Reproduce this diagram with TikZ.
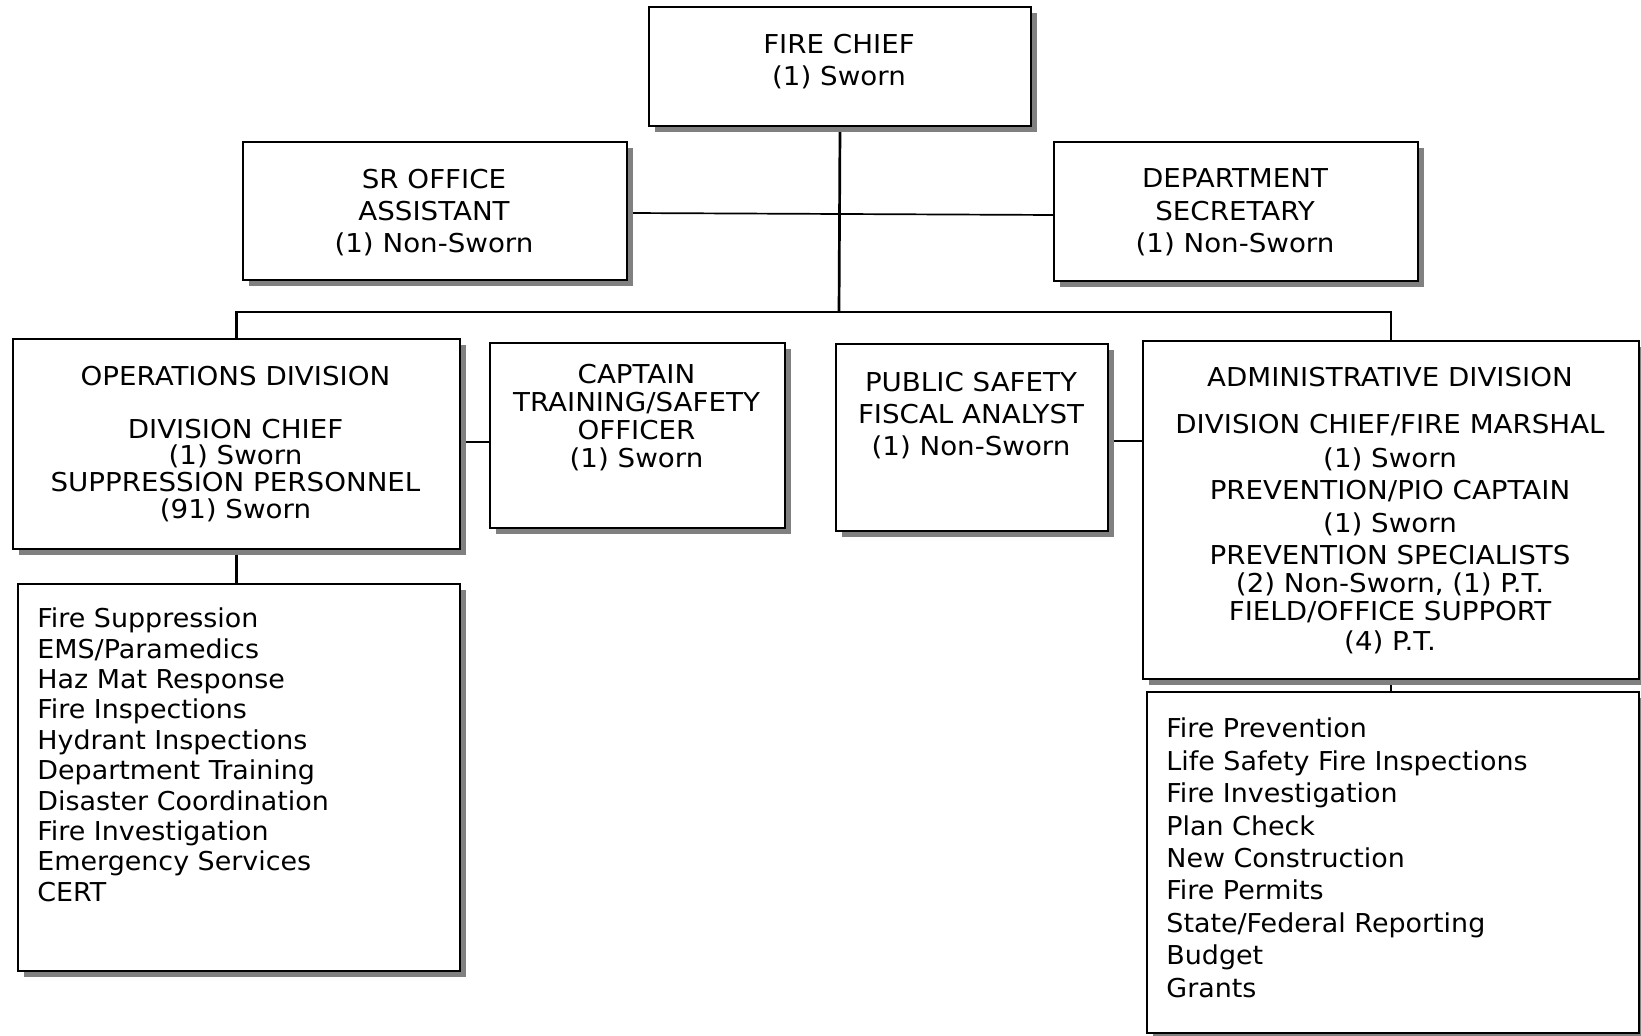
\documentclass[tikz,border=0pt]{standalone}
\usepackage{fontspec}
\setmainfont{DejaVu Sans}
\newfontfamily\ttlfont[FakeStretch=1.065]{DejaVu Sans}
\newfontfamily\lstfont[FakeStretch=1.035]{DejaVu Sans}
\usetikzlibrary{shadows}
\definecolor{shadowgray}{HTML}{808080}
\pgfdeclarelayer{bg}
\pgfsetlayers{bg,main}
\begin{document}
\begin{tikzpicture}[x=0.5pt,y=-0.5pt,
  box/.style={draw=black, line width=1pt, fill=white, rectangle, inner sep=0pt, anchor=north west,
    drop shadow={shadow xshift=3pt, shadow yshift=-2.8pt, fill=shadowgray, opacity=1}},
  ttl/.style={inner sep=0pt, anchor=north, align=center},
  lst/.style={inner sep=0pt, anchor=north west, align=left},
  conn/.style={line width=1.35pt},
  thinconn/.style={line width=0.85pt}]
\useasboundingbox (0,0) rectangle (1641,1036);

\node[box, minimum width=191pt, minimum height=59.5pt] (chief) at (648,6) {};
\node[box, minimum width=192pt, minimum height=69pt] (sr) at (242,141) {};
\node[box, minimum width=182pt, minimum height=69.5pt] (ds) at (1053,141) {};
\node[box, minimum width=223.5pt, minimum height=105pt] (ops) at (12,338) {};
\node[box, minimum width=147.5pt, minimum height=92.5pt] (cap) at (489,342) {};
\node[box, minimum width=136pt, minimum height=93.5pt] (pub) at (835,343) {};
\node[box, minimum width=248pt, minimum height=169pt] (adm) at (1142,340) {};
\node[box, minimum width=221pt, minimum height=193.5pt] (opsl) at (17,583) {};
\node[box, minimum width=246pt, minimum height=170.5pt] (adml) at (1146,691) {};

\node[ttl, font=\ttlfont\fontsize{13}{16}\selectfont] (chiefT) at (839,33.5) {FIRE CHIEF\\(1) Sworn};
\node[ttl, font=\ttlfont\fontsize{13}{16.2}\selectfont] (srT) at (434,168.5) {SR OFFICE\\ASSISTANT\\(1) Non-Sworn};
\node[ttl, font=\ttlfont\fontsize{13}{16.2}\selectfont] (dsT) at (1235,168.5) {DEPARTMENT\\SECRETARY\\(1) Non-Sworn};
\node[ttl, font=\ttlfont\fontsize{13}{13.3}\selectfont] (opsT) at (235.5,365.5) {OPERATIONS DIVISION\\[13.3pt]DIVISION CHIEF\\(1) Sworn\\SUPPRESSION PERSONNEL\\(91) Sworn};
\node[ttl, font=\ttlfont\fontsize{13}{13.9}\selectfont] (capT) at (636.5,364) {CAPTAIN\\TRAINING/SAFETY\\OFFICER\\(1) Sworn};
\node[ttl, font=\ttlfont\fontsize{13}{16}\selectfont] (pubT) at (971,371.5) {PUBLIC SAFETY\\FISCAL ANALYST\\(1) Non-Sworn};
\node[ttl, font=\ttlfont\fontsize{13}{16}\selectfont] (admT) at (1390,367) {ADMINISTRATIVE DIVISION\\[7.5pt]DIVISION CHIEF/FIRE MARSHAL\\[0.8pt](1) Sworn\\PREVENTION/PIO CAPTAIN\\[0.5pt](1) Sworn\\PREVENTION SPECIALISTS\\[-2pt](2) Non-Sworn, (1) P.T.\\[-1.7pt]FIELD/OFFICE SUPPORT\\[-1pt](4) P.T.};
\node[lst, font=\lstfont\fontsize{13}{15.2}\selectfont] (opslT) at (37,607.5) {Fire Suppression\\EMS/Paramedics\\Haz Mat Response\\Fire Inspections\\Hydrant Inspections\\Department Training\\Disaster Coordination\\Fire Investigation\\Emergency Services\\CERT};
\node[lst, font=\lstfont\fontsize{13}{16.2}\selectfont] (admlT) at (1166,717.7) {Fire Prevention\\Life Safety Fire Inspections\\Fire Investigation\\Plan Check\\New Construction\\Fire Permits\\State/Federal Reporting\\Budget\\Grants};

\begin{pgfonlayer}{bg}
\fill[white] (0,0) rectangle (1641,1036);
\coordinate (bus) at (839,312);
\draw[conn] (chief.south) -- (bus);
\draw[conn] (ops.north) |- (bus) -| (adm.north);
\draw[thinconn] ([yshift=-1pt]sr.east) -- ([yshift=-1.75pt]ds.west);
\draw[conn] ([yshift=1pt]ops.east) -- ([yshift=1pt]ops.east -| cap.west);
\draw[conn] ([yshift=-1.75pt]pub.east) -- ([yshift=-1.75pt]pub.east -| adm.west);
\draw[conn] (ops.south) -- (ops.south |- opsl.north);
\draw[conn] (adm.south) -- (adm.south |- adml.north);
\end{pgfonlayer}
\end{tikzpicture}
\end{document}
